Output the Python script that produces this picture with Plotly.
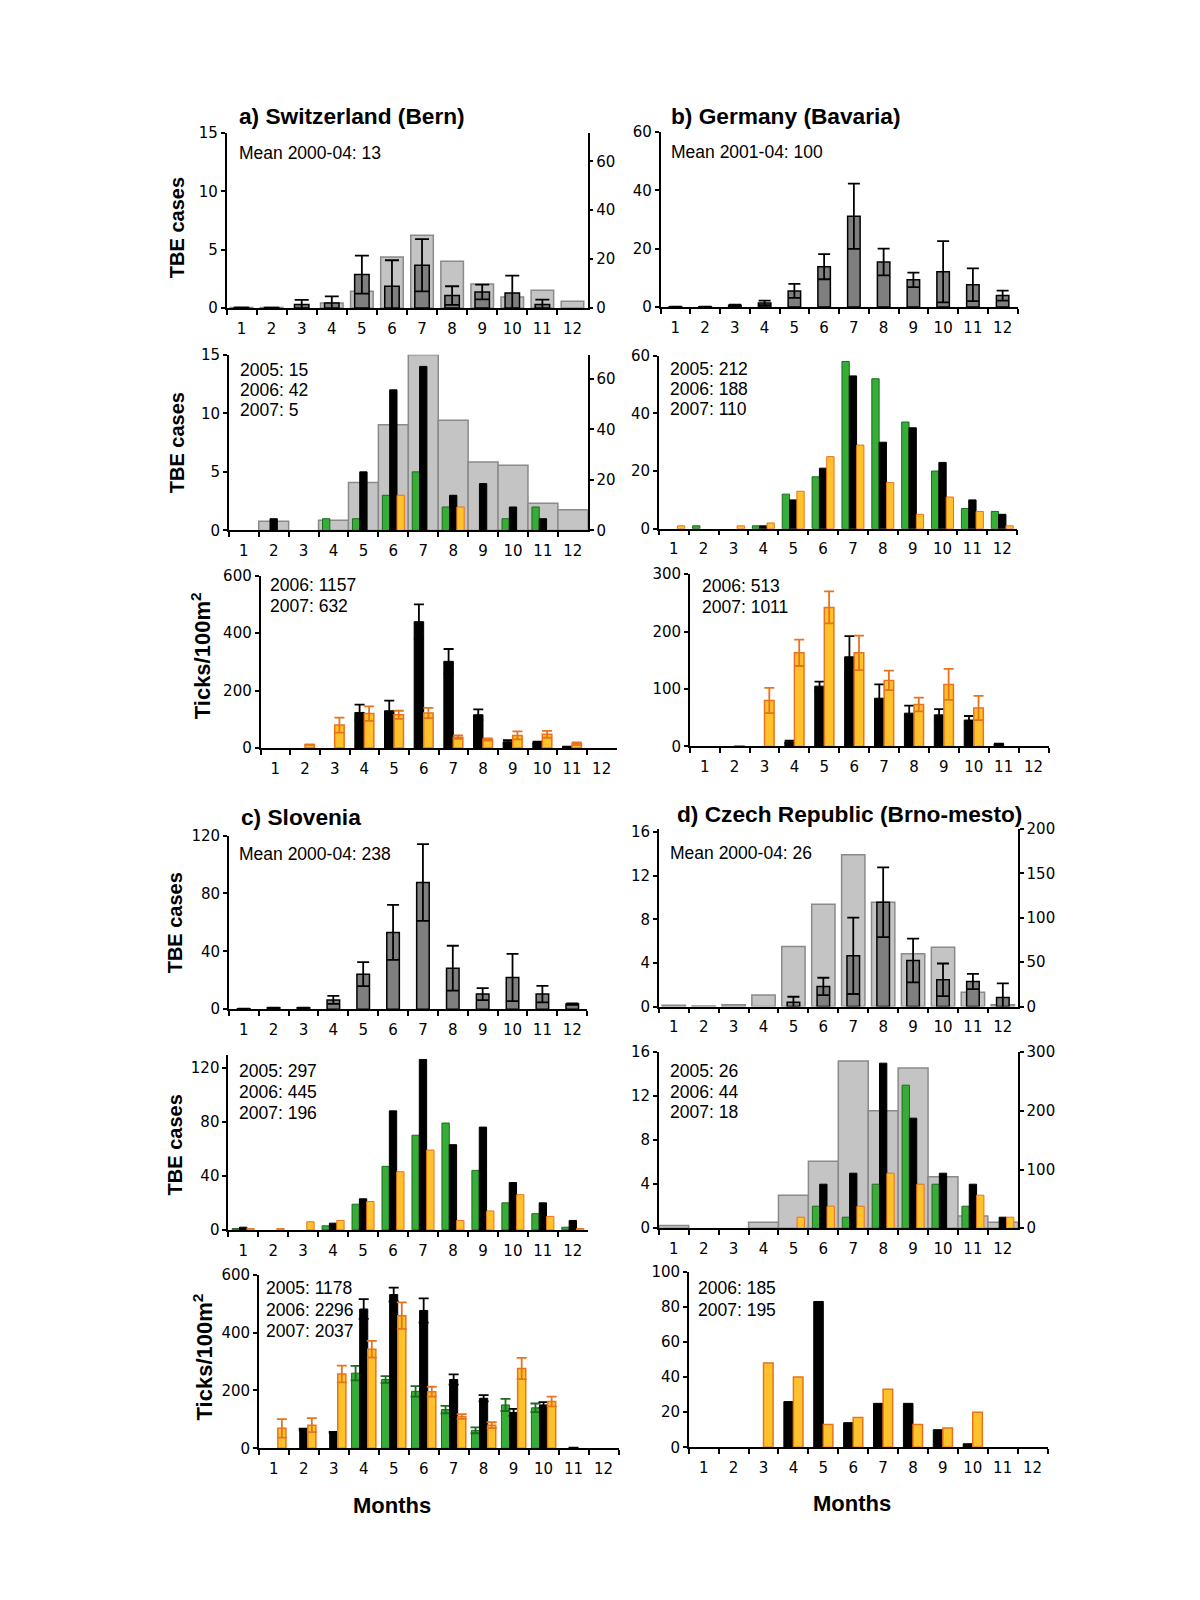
import plotly.graph_objects as go

W, H = 1200, 1600
months = [str(m) for m in range(1, 13)]

# ---------------- a) Switzerland (Bern) ----------------
sw_tbe_mean = [0.03, 0.03, 0.3, 0.43, 2.86, 1.86, 3.66, 1.06, 1.37, 1.29, 0.29, 0.0]
sw_tbe_sd = [0, 0, 0.4, 0.57, 1.63, 2.23, 2.24, 0.8, 0.63, 1.48, 0.42, 0]
sw_bg_mean = [0.2, 0.2, 0, 2.0, 6.8, 20.9, 29.7, 19.1, 9.8, 4.5, 7.2, 2.7]
sw_tbe_2005 = [0, 0, 0, 1, 1, 3, 5, 2, 0, 1, 2, 0]
sw_tbe_2006 = [0, 1, 0, 0, 5, 12, 14, 3, 4, 2, 1, 0]
sw_tbe_2007 = [0, 0, 0, 0, 0, 3, 0, 2, 0, 0, 0, 0]
sw_bg_0507 = [0, 3.6, 0, 4.0, 19.0, 41.9, 69.6, 43.6, 27.1, 25.8, 10.8, 8.2]
sw_tick_2006 = [0, 0, 0, 124, 130, 440, 302, 116, 22, 19, 4, 0]
sw_tick_2006_sd = [0, 0, 0, 27, 35, 60, 43, 19, 6, 3, 1, 0]
sw_tick_2007 = [0, 12, 80, 120, 116, 122, 38, 30, 44, 48, 15, 0]
sw_tick_2007_sd = [0, 1, 26, 25, 14, 18, 6, 4, 14, 12, 5, 0]

# ---------------- b) Germany (Bavaria) ----------------
de_tbe_mean = [0.1, 0.1, 0.6, 1.4, 5.5, 13.8, 31.1, 15.4, 9.3, 12.1, 7.6, 3.9]
de_tbe_sd = [0, 0, 0.2, 0.8, 2.4, 4.3, 11.2, 4.6, 2.5, 10.5, 5.6, 1.7]
de_tbe_2005 = [0, 1, 0, 1, 12, 18, 58, 52, 37, 20, 7, 6]
de_tbe_2006 = [0, 0, 0, 1, 10, 21, 53, 30, 35, 23, 10, 5]
de_tbe_2007 = [1, 0, 1, 2, 13, 25, 29, 16, 5, 11, 6, 1]
de_tick_2006 = [0, 0, 0, 8, 105, 156, 84, 58, 55, 46, 4, 0]
de_tick_2006_sd = [0, 0, 0, 2, 8, 36, 24, 13, 10, 7, 1, 0]
de_tick_2007 = [0, 1, 80, 163, 242, 163, 115, 73, 108, 67, 0, 0]
de_tick_2007_sd = [0, 0, 22, 23, 28, 30, 17, 12, 27, 21, 0, 0]

# ---------------- c) Slovenia ----------------
si_tbe_mean = [0.3, 1, 1, 6.4, 24.2, 53, 87.5, 28.3, 10.4, 21.9, 10.4, 3.5]
si_tbe_sd = [0, 0, 0, 2.8, 8.3, 19, 26.5, 15.5, 4.1, 16.3, 5.7, 0.5]
si_tbe_2005 = [1, 0, 0, 3, 19, 47, 70, 79, 44, 20, 12, 2]
si_tbe_2006 = [2, 0, 0, 5, 23, 88, 126, 63, 76, 35, 20, 7]
si_tbe_2007 = [1, 1, 6, 7, 21, 43, 59, 7, 14, 26, 10, 1]
si_tick_2005 = [0, 0, 0, 260, 238, 197, 134, 62, 150, 140, 0, 0]
si_tick_2005_sd = [0, 0, 0, 25, 12, 18, 13, 10, 21, 15, 0, 0]
si_tick_2006 = [0, 65, 55, 482, 532, 477, 238, 173, 124, 150, 2, 0]
si_tick_2006_sd = [0, 3, 2, 34, 24, 42, 18, 11, 12, 10, 0, 0]
si_tick_2007 = [69, 80, 257, 343, 459, 196, 110, 80, 276, 162, 0, 0]
si_tick_2007_sd = [32, 24, 29, 29, 46, 17, 8, 10, 37, 17, 0, 0]

# ---------------- d) Czech Republic (Brno-mesto) ----------------
cz_tbe_mean = [0, 0, 0, 0, 0.4, 1.84, 4.65, 9.57, 4.22, 2.45, 2.3, 0.83]
cz_tbe_sd = [0, 0, 0, 0, 0.5, 0.8, 3.5, 3.2, 2.0, 1.5, 0.7, 1.3]
cz_bg_mean = [1.5, 0.5, 2, 13, 67.7, 115.4, 171, 117.7, 59.4, 66.9, 16.2, 2]
cz_tbe_2005 = [0, 0, 0, 0, 0, 2, 1, 4, 13, 4, 2, 0]
cz_tbe_2006 = [0, 0, 0, 0, 0, 4, 5, 15, 10, 5, 4, 1]
cz_tbe_2007 = [0, 0, 0, 0, 1, 2, 2, 5, 4, 0, 3, 1]
cz_bg_0507 = [4.5, 0, 0, 10, 56, 114, 285, 200, 273, 87.5, 21, 10]
cz_tick_2006 = [0, 0, 0, 26, 83, 14, 25, 25, 10, 2, 0, 0]
cz_tick_2007 = [0, 0, 48, 40, 13, 17, 33, 13, 11, 20, 0, 0]

# ---------------- styles ----------------
GREEN, GREEN_EDGE = "#36ad36", "#1c6b1c"
ORANGE, ORANGE_EDGE = "#ffc22b", "#e8731f"
BLACK = "#000000"
LIGHT, LIGHT_EDGE = "#c4c4c4", "#8a8a8a"
DARK = "#7f7f7f"
TICK_FONT = dict(family="DejaVu Sans, Verdana, sans-serif", size=15, color="black")
TEXT_FAMILY = "Liberation Sans, Arial, sans-serif"

# page-position helpers (target pixel -> paper fraction)
X_SHIFT = 7.5
Y_TOP, Y_SCALE = 17.4, 0.9885


def PX(px):
    return (px - X_SHIFT) / W


def PY(py):
    return 1 - ((py - Y_TOP) / Y_SCALE) / H


fig = go.Figure()
axes = {}
cnt = {"x": 0, "y": 0}


def key(letter, i):
    return f"{letter}axis" if i == 1 else f"{letter}axis{i}"


def ref(letter, i):
    return letter if i == 1 else f"{letter}{i}"


def ystyle(rng, tickvals, side):
    return dict(range=rng, tickvals=tickvals, side=side, showline=True, linecolor="black",
                linewidth=1.5, ticks="outside", ticklen=4, tickwidth=1.5, tickcolor="black",
                showgrid=False, zeroline=False, tickfont=TICK_FONT, fixedrange=True)


def panel(x0, x1, y0, y1, lrange, lticks, rrange=None, rticks=None):
    cnt["x"] += 1
    xi = cnt["x"]
    cnt["y"] += 1
    yb = cnt["y"]
    dom_y = [PY(y1), PY(y0)]
    axes[key("x", xi)] = dict(domain=[PX(x0), PX(x1)], anchor=ref("y", yb), type="category",
                              range=[-0.5, 11.5], tickson="boundaries", ticks="outside", ticklen=5,
                              tickwidth=1.5, tickcolor="black", showline=True, linecolor="black",
                              linewidth=1.5, showgrid=False, zeroline=False, tickfont=TICK_FONT,
                              ticklabelstandoff=6, fixedrange=True)
    if rrange is None:
        ax = ystyle(lrange, lticks, "left")
        ax.update(domain=dom_y, anchor=ref("x", xi))
        axes[key("y", yb)] = ax
        return ref("x", xi), ref("y", yb), None
    right = ystyle(rrange, rticks, "right")
    right.update(domain=dom_y, anchor=ref("x", xi))
    axes[key("y", yb)] = right
    cnt["y"] += 1
    yl = cnt["y"]
    left = ystyle(lrange, lticks, "left")
    left.update(overlaying=ref("y", yb), anchor=ref("x", xi))
    axes[key("y", yl)] = left
    return ref("x", xi), ref("y", yl), ref("y", yb)


def bars(xr, yr, vals, fill, edge, width, offset, err=None, err_color="black", cap=5, lw=1.0):
    shown = [v if v else None for v in vals]
    kw = {}
    if err is not None:
        kw["error_y"] = dict(type="data", array=[e if v else None for v, e in zip(vals, err)],
                             visible=True, color=err_color, thickness=1.8, width=cap)
    fig.add_trace(go.Bar(x=months, y=shown, xaxis=xr, yaxis=yr, width=width, offset=offset,
                         marker=dict(color=fill, line=dict(color=edge, width=lw)),
                         showlegend=False, hoverinfo="skip", **kw))


def triple(xr, yr, s05, s06, s07, w=0.245):
    bars(xr, yr, s05, GREEN, GREEN_EDGE, w, -1.5 * w)
    bars(xr, yr, s06, BLACK, BLACK, w, -0.5 * w)
    bars(xr, yr, s07, ORANGE, ORANGE_EDGE, w, 0.5 * w)


# ---- a1
xr, yl, yr = panel(226, 587, 133.3, 308.3, [0, 15], [0, 5, 10, 15], [0, 71.6], [0, 20, 40, 60])
bars(xr, yr, sw_bg_mean, LIGHT, LIGHT_EDGE, 0.75, -0.375, lw=1.5)
bars(xr, yl, sw_tbe_mean, DARK, BLACK, 0.48, -0.24, err=sw_tbe_sd, cap=7, lw=1.5)
# ---- a2
xr, yl, yr = panel(228.3, 587.3, 355, 530.7, [0, 15], [0, 5, 10, 15], [0, 69.6], [0, 20, 40, 60])
bars(xr, yr, sw_bg_0507, LIGHT, LIGHT_EDGE, 1.0, -0.5, lw=1.5)
triple(xr, yl, sw_tbe_2005, sw_tbe_2006, sw_tbe_2007)
# ---- a3
xr, yl, _ = panel(260, 616, 576, 748.3, [0, 600], [0, 200, 400, 600])
bars(xr, yl, sw_tick_2006, BLACK, BLACK, 0.32, -0.32, err=sw_tick_2006_sd, cap=5)
bars(xr, yl, sw_tick_2007, ORANGE, ORANGE_EDGE, 0.32, 0.0, err=sw_tick_2007_sd,
     err_color=ORANGE_EDGE, cap=5, lw=1.5)
# ---- b1
xr, yl, _ = panel(660, 1017, 132.3, 307.3, [0, 60], [0, 20, 40, 60])
bars(xr, yl, de_tbe_mean, DARK, BLACK, 0.42, -0.21, err=de_tbe_sd, cap=6, lw=1.5)
# ---- b2
xr, yl, _ = panel(658.3, 1016.7, 356, 529, [0, 60], [0, 20, 40, 60])
triple(xr, yl, de_tbe_2005, de_tbe_2006, de_tbe_2007)
# ---- b3
xr, yl, _ = panel(689.3, 1048, 574.3, 746.7, [0, 300], [0, 100, 200, 300])
bars(xr, yl, de_tick_2006, BLACK, BLACK, 0.32, -0.32, err=de_tick_2006_sd, cap=5)
bars(xr, yl, de_tick_2007, ORANGE, ORANGE_EDGE, 0.32, 0.0, err=de_tick_2007_sd,
     err_color=ORANGE_EDGE, cap=5, lw=1.5)
# ---- c1
xr, yl, _ = panel(228.3, 586.7, 835.7, 1009.3, [0, 120], [0, 40, 80, 120])
bars(xr, yl, si_tbe_mean, DARK, BLACK, 0.42, -0.21, err=si_tbe_sd, cap=6, lw=1.5)
# ---- c2
xr, yl, _ = panel(227.7, 587.3, 1055, 1230, [0, 129.4], [0, 40, 80, 120])
triple(xr, yl, si_tbe_2005, si_tbe_2006, si_tbe_2007)
# ---- c3
xr, yl, _ = panel(258.3, 618, 1275, 1448.3, [0, 600], [0, 200, 400, 600])
w3 = 0.27
bars(xr, yl, si_tick_2005, GREEN, GREEN_EDGE, w3, -1.5 * w3, err=si_tick_2005_sd,
     err_color=GREEN_EDGE, cap=5)
bars(xr, yl, si_tick_2006, BLACK, BLACK, w3, -0.5 * w3, err=si_tick_2006_sd, cap=5)
bars(xr, yl, si_tick_2007, ORANGE, ORANGE_EDGE, w3, 0.5 * w3, err=si_tick_2007_sd,
     err_color=ORANGE_EDGE, cap=5, lw=1.5)
# ---- d1
xr, yl, yr = panel(658.3, 1017.3, 829.3, 1006.7, [0, 16.27], [0, 4, 8, 12, 16],
                   [0, 200], [0, 50, 100, 150, 200])
bars(xr, yr, cz_bg_mean, LIGHT, LIGHT_EDGE, 0.78, -0.39, lw=1.5)
bars(xr, yl, cz_tbe_mean, DARK, BLACK, 0.42, -0.21, err=cz_tbe_sd, cap=6, lw=1.5)
# ---- d2
xr, yl, yr = panel(658.3, 1017.3, 1052.3, 1228.3, [0, 16], [0, 4, 8, 12, 16],
                   [0, 300], [0, 100, 200, 300])
bars(xr, yr, cz_bg_0507, LIGHT, LIGHT_EDGE, 1.0, -0.5, lw=1.5)
triple(xr, yl, cz_tbe_2005, cz_tbe_2006, cz_tbe_2007)
# ---- d3
xr, yl, _ = panel(688.3, 1047, 1271.7, 1447.3, [0, 100], [0, 20, 40, 60, 80, 100])
bars(xr, yl, cz_tick_2006, BLACK, BLACK, 0.32, -0.32)
bars(xr, yl, cz_tick_2007, ORANGE, ORANGE_EDGE, 0.32, 0.0, lw=1.5)

# ---------------- texts ----------------
ann = []


def text(px, py, s, size=17.5, anchor="left", angle=0):
    ann.append(dict(x=PX(px), y=PY(py), xref="paper", yref="paper", text=s, showarrow=False,
                    xanchor=anchor, yanchor="middle", textangle=angle,
                    font=dict(family=TEXT_FAMILY, size=size, color="black")))


text(236, 116, "<b>a) Switzerland (Bern)</b>", 22.7)
text(668, 116, "<b>b) Germany (Bavaria)</b>", 22.7)
text(238, 817, "<b>c) Slovenia</b>", 22.7)
text(674, 814, "<b>d) Czech Republic (Brno-mesto)</b>", 22.7)

text(236, 153, "Mean 2000-04: 13")
text(668, 152, "Mean 2001-04: 100")
for i, s in enumerate(["2005: 15", "2006: 42", "2007: 5"]):
    text(237, 370 + 20 * i, s)
for i, s in enumerate(["2005: 212", "2006: 188", "2007: 110"]):
    text(667, 369 + 20 * i, s)
for i, s in enumerate(["2006: 1157", "2007: 632"]):
    text(267, 585 + 21.5 * i, s)
for i, s in enumerate(["2006: 513", "2007: 1011"]):
    text(699, 586 + 21 * i, s)
text(236, 854, "Mean 2000-04: 238")
text(667, 853, "Mean 2000-04: 26")
for i, s in enumerate(["2005: 297", "2006: 445", "2007: 196"]):
    text(236, 1071 + 21 * i, s)
for i, s in enumerate(["2005: 26", "2006: 44", "2007: 18"]):
    text(667, 1071 + 20.7 * i, s)
for i, s in enumerate(["2005: 1178", "2006: 2296", "2007: 2037"]):
    text(263, 1288 + 21.7 * i, s)
for i, s in enumerate(["2006: 185", "2007: 195"]):
    text(695, 1288 + 21.7 * i, s)

text(176, 228, "<b>TBE cases</b>", 20, "center", -90)
text(176, 443, "<b>TBE cases</b>", 20, "center", -90)
text(200, 656, "<b>Ticks/100m<sup>2</sup></b>", 22, "center", -90)
text(174, 923, "<b>TBE cases</b>", 20, "center", -90)
text(174, 1145, "<b>TBE cases</b>", 20, "center", -90)
text(202, 1357, "<b>Ticks/100m<sup>2</sup></b>", 22, "center", -90)
text(391, 1506, "<b>Months</b>", 22, "center")
text(851, 1504, "<b>Months</b>", 22, "center")

fig.update_layout(width=W, height=H, margin=dict(l=0, r=0, t=0, b=0), autosize=False,
                  paper_bgcolor="white", plot_bgcolor="rgba(0,0,0,0)", barmode="overlay",
                  showlegend=False, annotations=ann, **axes)

fig.write_html("out.html")
